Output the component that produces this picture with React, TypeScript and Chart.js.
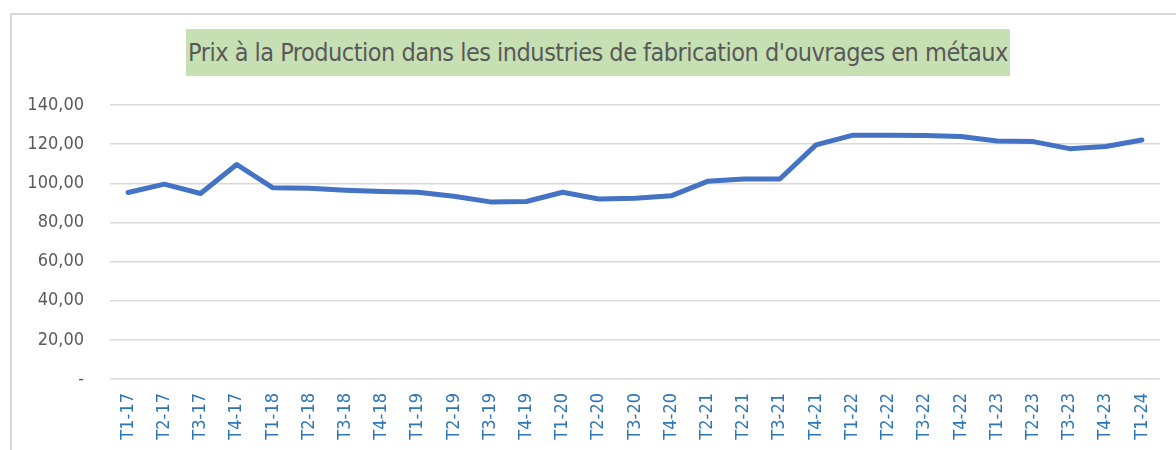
import React, { useEffect, useRef } from "react";
import { Chart, registerables } from "chart.js";

Chart.register(...registerables);

const TITLE = "Prix à la Production dans les industries de fabrication d'ouvrages en métaux";

const categories: string[] = [
  "T1-17", "T2-17", "T3-17", "T4-17",
  "T1-18", "T2-18", "T3-18", "T4-18",
  "T1-19", "T2-19", "T3-19", "T4-19",
  "T1-20", "T2-20", "T3-20", "T4-20",
  "T2-21", "T2-21", "T3-21", "T4-21",
  "T1-22", "T2-22", "T3-22", "T4-22",
  "T1-23", "T2-23", "T3-23", "T4-23",
  "T1-24",
];

const values: number[] = [
  95.3, 99.6, 94.8, 109.6,
  97.7, 97.5, 96.5, 95.8,
  95.4, 93.4, 90.5, 90.7,
  95.4, 92.0, 92.3, 93.6,
  101.0, 102.2, 102.2, 119.6,
  124.5, 124.5, 124.4, 123.9,
  121.6, 121.3, 117.7, 118.8,
  122.1,
];

const yTicks: number[] = [0, 20, 40, 60, 80, 100, 120, 140];

const FONT = "'Liberation Sans Narrow', 'DejaVu Sans Condensed', sans-serif";

function fmt(v: number): string {
  if (v === 0) return "-";
  return v.toFixed(2).replace(".", ",");
}

export default function App() {
  const ref = useRef<HTMLCanvasElement | null>(null);

  useEffect(() => {
    if (!ref.current) return;
    const chart = new Chart(ref.current, {
      type: "line",
      data: {
        labels: categories,
        datasets: [
          {
            data: values,
            borderColor: "#4472c4",
            borderWidth: 5,
            pointRadius: 0,
            tension: 0,
            fill: false,
            borderCapStyle: "round",
            borderJoinStyle: "round",
          },
        ],
      },
      options: {
        animation: false,
        responsive: false,
        maintainAspectRatio: false,
        layout: { padding: { left: 10, right: 16, top: 105, bottom: 0 } },
        plugins: { legend: { display: false }, tooltip: { enabled: false }, title: { display: false } },
        scales: {
          x: {
            offset: true,
            grid: { display: false },
            border: { display: false },
            ticks: {
              autoSkip: false,
              maxRotation: 90,
              minRotation: 90,
              color: "#2e75b6",
              font: { family: FONT, size: 18 },
              padding: 6,
            },
            afterFit: (s: any) => { s.height = 71; },
          },
          y: {
            min: 0,
            max: 140,
            afterBuildTicks: (s: any) => { s.ticks = yTicks.map((v) => ({ value: v })); },
            grid: { color: "#d9d9d9", lineWidth: 1.5, drawTicks: false },
            border: { display: false },
            ticks: {
              color: "#595959",
              font: { family: FONT, size: 18 },
              padding: 26,
              callback: (v: any) => fmt(Number(v)),
            },
            afterFit: (s: any) => { s.width = 100; },
          },
        },
      },
    });
    return () => chart.destroy();
  }, []);

  return (
    <div style={{ position: "fixed", left: 0, top: 0, width: 1176, height: 450, background: "#fff", overflow: "hidden" }}>
      <div style={{ position: "absolute", left: 10, top: 13, width: 1200, height: 500, border: "2px solid #d9d9d9", boxSizing: "border-box" }} />
      <canvas ref={ref} width={1176} height={450} style={{ position: "absolute", left: 0, top: 0, width: 1176, height: 450 }} />
      <div
        style={{
          position: "absolute",
          left: 186,
          top: 29,
          width: 824,
          height: 47,
          background: "#c6e0b4",
          color: "#595959",
          fontFamily: FONT,
          fontSize: 25,
          display: "flex",
          alignItems: "center",
          justifyContent: "center",
          whiteSpace: "nowrap",
          letterSpacing: -0.5,
        }}
      >
        {TITLE}
      </div>
    </div>
  );
}
